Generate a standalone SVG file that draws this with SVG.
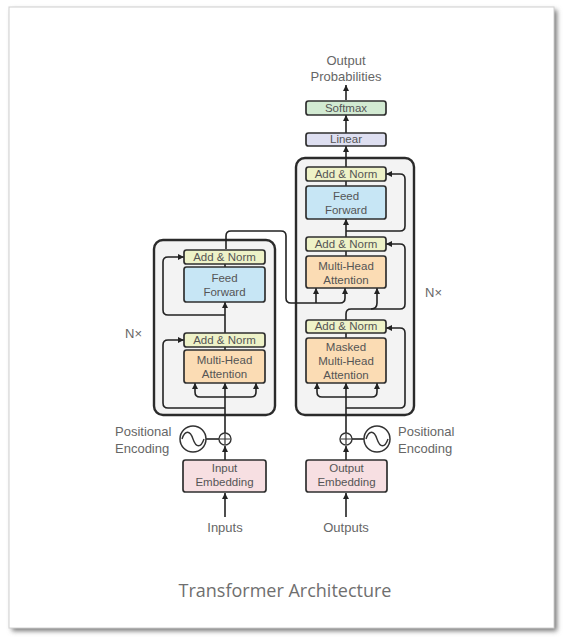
<svg xmlns="http://www.w3.org/2000/svg" width="565" height="638" viewBox="0 0 565 638">
<defs>
<filter id="sh" x="-5%" y="-5%" width="110%" height="110%">
<feGaussianBlur stdDeviation="2.5"/>
</filter>
<marker id="ah" viewBox="0 0 6 6" refX="6" refY="3" markerWidth="6" markerHeight="6" markerUnits="userSpaceOnUse" orient="auto">
<path d="M0,0 L6,3 L0,6 z" fill="#222"/>
</marker>
</defs>
<style>
.stack{fill:#f3f3f3;stroke:#2b2b2b;stroke-width:2.4}
.n{stroke:#2f2f2f;stroke-width:1.7}
.an{fill:#eef2c8}
.ff{fill:#c7e6f5}
.mha{fill:#fbdcb4}
.emb{fill:#f7dfe2}
.lin{fill:#dedff1}
.sm{fill:#d2ead2}
.t{font-family:"Liberation Sans",Arial,sans-serif;font-size:11.5px;fill:#555;text-anchor:middle}
.lbl{font-family:"Liberation Sans",Arial,sans-serif;font-size:13px;fill:#666}
.c{fill:none;stroke:#222;stroke-width:1.6}
.a{marker-end:url(#ah)}
</style>
<rect x="12" y="10" width="545" height="621" fill="#777" filter="url(#sh)"/>
<rect x="9" y="7" width="545" height="621" fill="#fff" stroke="#d0d0d0" stroke-width="1"/>
<text x="285" y="597" font-family="'Open Sans','Liberation Sans',sans-serif" font-size="18" fill="#6f6f6f" text-anchor="middle">Transformer Architecture</text>

<g id="encoder-stack"><rect class="stack" x="154" y="240" width="121" height="175" rx="9"/></g>
<g id="decoder-stack"><rect class="stack" x="296" y="158" width="118" height="257" rx="9"/></g>

<g id="connectors">
<path class="c a" d="M225,517 L225,493"/>
<path class="c a" d="M225,460 L225,446"/>
<path class="c" d="M206,439 L219,439"/>
<path class="c a" d="M225,433 L225,383"/>
<path class="c a" d="M225,397 L200,397 Q195,397 195,392 L195,383"/>
<path class="c a" d="M225,397 L251,397 Q256,397 256,392 L256,383"/>
<path class="c a" d="M225,408 L168,408 Q163,408 163,403 L163,345 Q163,340 168,340 L184,340"/>
<path class="c" d="M225,350 L225,347"/>
<path class="c a" d="M225,333 L225,302"/>
<path class="c a" d="M225,315 L168,315 Q163,315 163,310 L163,262 Q163,257 168,257 L184,257"/>
<path class="c" d="M225,267 L225,263"/>
<path class="c a" d="M226,249 L226,236 Q226,231 231,231 L281,231 Q286,231 286,236 L286,298 Q286,303 291,303 L340,303 Q345,303 345,298 L345,288"/>
<path class="c a" d="M316,303 L316,288"/>

<path class="c a" d="M346,517 L346,493"/>
<path class="c a" d="M346,460 L346,446"/>
<path class="c" d="M352,439 L364,439"/>
<path class="c a" d="M346,433 L346,383"/>
<path class="c a" d="M346,397 L322,397 Q317,397 317,392 L317,383"/>
<path class="c a" d="M346,397 L372,397 Q377,397 377,392 L377,383"/>
<path class="c a" d="M346,408 L400,408 Q405,408 405,403 L405,333 Q405,328 400,328 L386,328"/>
<path class="c" d="M346,338 L346,333"/>
<path class="c a" d="M346,320 L346,314 Q346,309 351,309 L400,309 Q405,309 405,304 L405,249 Q405,244 400,244 L386,244"/>
<path class="c a" d="M371,309 Q377,309 377,303 L377,288"/>
<path class="c" d="M346,256 L346,250"/>
<path class="c a" d="M346,237 L346,219"/>
<path class="c a" d="M346,231 L400,231 Q405,231 405,226 L405,179 Q405,174 400,174 L386,174"/>
<path class="c" d="M346,186 L346,181"/>
<path class="c a" d="M346,167 L346,146"/>
<path class="c a" d="M346,133 L346,115"/>
<path class="c a" d="M346,100 L346,85"/>
</g>

<g id="enc-addnorm2"><rect class="n an" x="184" y="250" width="81" height="14" rx="2.5"/><text class="t" x="224.5" y="261">Add &amp; Norm</text></g>
<g id="enc-ff"><rect class="n ff" x="184" y="267" width="81" height="35" rx="2.5"/><text class="t" x="224.5" y="282">Feed</text><text class="t" x="224.5" y="296">Forward</text></g>
<g id="enc-addnorm1"><rect class="n an" x="184" y="333" width="81" height="14" rx="2.5"/><text class="t" x="224.5" y="344">Add &amp; Norm</text></g>
<g id="enc-mha"><rect class="n mha" x="184" y="350" width="81" height="33" rx="2.5"/><text class="t" x="224.5" y="364">Multi-Head</text><text class="t" x="224.5" y="378">Attention</text></g>
<g id="enc-nx"><text class="lbl" x="125" y="338">N×</text></g>
<g id="input-embedding"><rect class="n emb" x="183" y="460" width="83" height="32" rx="2.5"/><text class="t" x="224.5" y="472">Input</text><text class="t" x="224.5" y="486">Embedding</text></g>
<g id="enc-posenc">
<circle cx="225" cy="439" r="6" fill="#fff" stroke="#333" stroke-width="1.4"/>
<path d="M225,434 L225,444 M220,439 L230,439" stroke="#333" stroke-width="1.2"/>
<circle cx="193" cy="439" r="13" fill="#fff" stroke="#333" stroke-width="1.5"/>
<path d="M182,439 C185,430 190,430 193,439 S201,448 204,439" fill="none" stroke="#333" stroke-width="1.4"/>
<text class="lbl" x="115" y="436">Positional</text><text class="lbl" x="115" y="453">Encoding</text>
</g>
<g id="inputs"><text class="lbl" x="225" y="532" text-anchor="middle">Inputs</text></g>

<g id="dec-addnorm3"><rect class="n an" x="306" y="167" width="80" height="14" rx="2.5"/><text class="t" x="346" y="178">Add &amp; Norm</text></g>
<g id="dec-ff"><rect class="n ff" x="306" y="186" width="80" height="33" rx="2.5"/><text class="t" x="346" y="200">Feed</text><text class="t" x="346" y="214">Forward</text></g>
<g id="dec-addnorm2"><rect class="n an" x="306" y="237" width="80" height="14" rx="2.5"/><text class="t" x="346" y="248">Add &amp; Norm</text></g>
<g id="dec-mha"><rect class="n mha" x="306" y="256" width="80" height="32" rx="2.5"/><text class="t" x="346" y="270">Multi-Head</text><text class="t" x="346" y="284">Attention</text></g>
<g id="dec-addnorm1"><rect class="n an" x="306" y="320" width="80" height="13" rx="2.5"/><text class="t" x="346" y="330">Add &amp; Norm</text></g>
<g id="dec-masked-mha"><rect class="n mha" x="306" y="338" width="80" height="45" rx="2.5"/><text class="t" x="346" y="351">Masked</text><text class="t" x="346" y="365">Multi-Head</text><text class="t" x="346" y="379">Attention</text></g>
<g id="dec-nx"><text class="lbl" x="425" y="297">N×</text></g>
<g id="linear"><rect class="n lin" x="306" y="133" width="80" height="13" rx="2.5"/><text class="t" x="346" y="143">Linear</text></g>
<g id="softmax"><rect class="n sm" x="306" y="101" width="80" height="14" rx="2.5"/><text class="t" x="346" y="112">Softmax</text></g>
<g id="output-probabilities"><text class="lbl" x="346" y="65" text-anchor="middle">Output</text><text class="lbl" x="346" y="81" text-anchor="middle">Probabilities</text></g>
<g id="output-embedding"><rect class="n emb" x="306" y="460" width="81" height="32" rx="2.5"/><text class="t" x="346.5" y="472">Output</text><text class="t" x="346.5" y="486">Embedding</text></g>
<g id="dec-posenc">
<circle cx="346" cy="439" r="6" fill="#fff" stroke="#333" stroke-width="1.4"/>
<path d="M346,434 L346,444 M341,439 L351,439" stroke="#333" stroke-width="1.2"/>
<circle cx="377" cy="439" r="13" fill="#fff" stroke="#333" stroke-width="1.5"/>
<path d="M366,439 C369,430 374,430 377,439 S385,448 388,439" fill="none" stroke="#333" stroke-width="1.4"/>
<text class="lbl" x="398" y="436">Positional</text><text class="lbl" x="398" y="453">Encoding</text>
</g>
<g id="outputs"><text class="lbl" x="346" y="532" text-anchor="middle">Outputs</text></g>
</svg>
